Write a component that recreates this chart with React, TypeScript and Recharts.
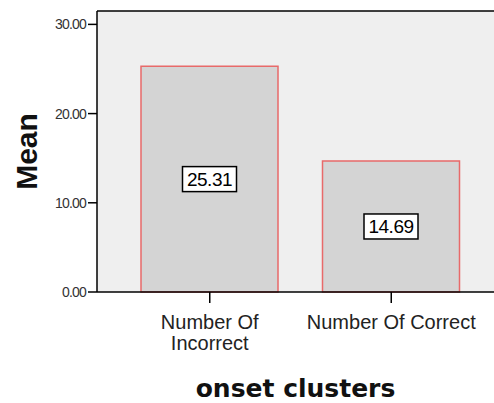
import { BarChart, Bar, XAxis, YAxis, CartesianGrid, ReferenceLine, LabelList, Label } from 'recharts';

const categories = ['Number Of Incorrect', 'Number Of Correct'];
const tickLines = [['Number Of', 'Incorrect'], ['Number Of Correct']];
const means = [25.31, 14.69];
const yTicks = [0, 10, 20, 30];
const yMax = 31.5;

const data = categories.map((name, i) => ({ name, mean: means[i] }));

function CategoryTick(props: any) {
    const { x, y, index } = props;
    const lines = tickLines[index] || [];
    return (
        <text x={x} y={y + 24} textAnchor="middle" fontFamily="Liberation Sans, Arial, sans-serif" fontSize={20} fill="#222">
            {lines.map((l, i) => (
                <tspan key={i} x={x} dy={i === 0 ? 0 : 21}>{l}</tspan>
            ))}
        </text>
    );
}

function ValueBox(props: any) {
    const { x, y, width, height, value } = props;
    const cx = x + width / 2;
    const cy = y + height / 2;
    const w = 54;
    const h = 25;
    return (
        <g>
            <rect x={cx - w / 2} y={cy - h / 2} width={w} height={h} fill="#fff" stroke="#000" strokeWidth={1.5} />
            <text x={cx} y={cy + 7} textAnchor="middle" fontFamily="Liberation Sans, Arial, sans-serif" fontSize={19} letterSpacing={-0.5} fill="#000">
                {Number(value).toFixed(2)}
            </text>
        </g>
    );
}

export default function App() {
    return (
        <div style={{ position: 'absolute', left: 0, top: 0, background: '#fff' }}>
            <BarChart
                width={494}
                height={403}
                data={data}
                margin={{ top: 11, right: 0, left: 0, bottom: 0 }}
            >
                <CartesianGrid fill="#efefef" vertical={false} horizontal={false} />
                <XAxis
                    dataKey="name"
                    height={111}
                    tickSize={11}
                    tick={<CategoryTick />}
                    interval={0}
                    padding={{ left: 22, right: 12 }}
                    axisLine={{ stroke: '#000', strokeWidth: 1.5 }}
                    tickLine={{ stroke: '#000', strokeWidth: 1.5 }}
                >
                    <Label
                        value="onset clusters"
                        position="insideBottom"
                        offset={6}
                        style={{ fontFamily: 'DejaVu Sans, sans-serif', fontWeight: 'bold', fontSize: 25, fill: '#111' }}
                    />
                </XAxis>
                <YAxis
                    width={97}
                    domain={[0, yMax]}
                    ticks={yTicks}
                    tickSize={9}
                    tickFormatter={(v: number) => v.toFixed(2)}
                    tick={{ fontFamily: 'Liberation Sans, Arial, sans-serif', fontSize: 14, fill: '#333', letterSpacing: -0.8 }}
                    axisLine={{ stroke: '#000', strokeWidth: 1.5 }}
                    tickLine={{ stroke: '#000', strokeWidth: 1.5 }}
                >
                    <Label
                        value="Mean"
                        angle={-90}
                        position="insideLeft"
                        offset={26}
                        style={{ textAnchor: 'middle', fontFamily: 'Liberation Sans, Arial, sans-serif', fontWeight: 'bold', fontSize: 30, fill: '#111' }}
                    />
                </YAxis>
                <ReferenceLine y={yMax} stroke="#000" strokeWidth={1.5} />
                <Bar dataKey="mean" barSize={137} fill="#d4d4d4" stroke="#e86a6a" strokeWidth={1.5} isAnimationActive={false}>
                    <LabelList dataKey="mean" content={<ValueBox />} />
                </Bar>
            </BarChart>
        </div>
    );
}
